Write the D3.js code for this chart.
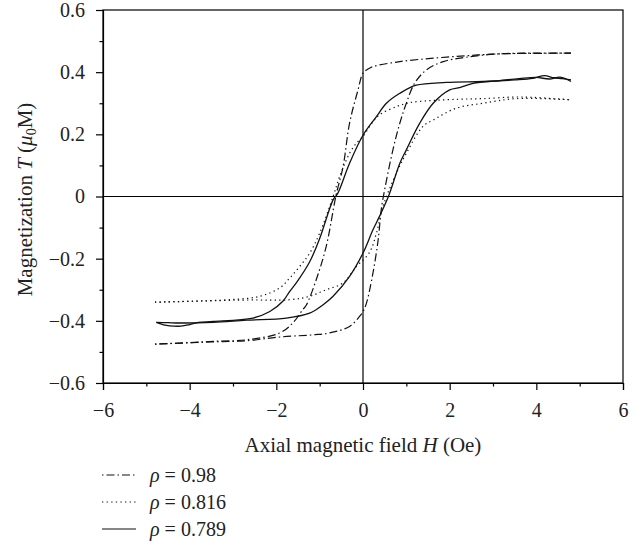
<!DOCTYPE html>
<html>
<head>
<meta charset="utf-8">
<script src="https://cdn.jsdelivr.net/npm/d3@7"></script>
<style>
  body { margin: 0; background: #fff; }
  svg { font-family: "Liberation Serif", "DejaVu Serif", serif; }
  .axis path, .axis line { stroke: #000; stroke-width: 1.2; }
</style>
</head>
<body>
<svg id="chart" width="644" height="548"></svg>
<script>
//
// Hysteresis loops, magnetization vs axial field
//

// tick labels
const xTicks = [-6, -4, -2, 0, 2, 4, 6];
const xMinorTicks = [-5, -3, -1, 1, 3, 5];
const yTicks = [-0.6, -0.4, -0.2, 0, 0.2, 0.4, 0.6];
const yMinorTicks = [-0.5, -0.3, -0.1, 0.1, 0.3, 0.5];

// legend entries
const seriesNames = ["0.98", "0.816", "0.789"];

// rho = 0.98, [H, M] — upper (descending field) and lower (ascending field) branches
const rho098Upper = [
  [-4.8, -0.475], [-4.0, -0.47], [-3.46, -0.466], [-2.69, -0.461],
  [-1.92, -0.439], [-1.62, -0.407], [-1.39, -0.364], [-1.31, -0.35],
  [-1.08, -0.268], [-0.85, -0.161], [-0.62, 0.005], [-0.46, 0.096],
  [-0.31, 0.236], [-0.115, 0.343], [0, 0.397], [0.115, 0.41],
  [0.23, 0.418], [0.85, 0.434], [1.62, 0.445], [2.4, 0.453],
  [3.15, 0.459], [4.8, 0.461]
];
const rho098Lower = [
  [-4.8, -0.475], [-3.5, -0.468], [-2.69, -0.464], [-1.92, -0.452],
  [-1.15, -0.445], [-0.77, -0.439], [-0.31, -0.418], [-0.08, -0.386],
  [0, -0.37], [0.08, -0.343], [0.23, -0.246], [0.35, -0.139],
  [0.42, -0.043], [0.47, 0.0], [0.69, 0.15], [0.85, 0.236],
  [1.0, 0.3], [1.19, 0.364], [1.46, 0.407], [1.85, 0.434],
  [2.38, 0.448], [3.15, 0.459], [4.8, 0.461]
];

// rho = 0.816
const rho0816Upper = [
  [-4.8, -0.34], [-3.08, -0.332], [-2.38, -0.321], [-1.92, -0.294],
  [-1.69, -0.262], [-1.46, -0.225], [-1.23, -0.182], [-1.0, -0.118],
  [-0.69, 0.0], [-0.54, 0.064], [-0.31, 0.139], [-0.15, 0.172],
  [0, 0.193], [0.2, 0.235], [0.385, 0.263], [0.77, 0.289],
  [1.08, 0.302], [1.62, 0.309], [2.23, 0.313], [2.77, 0.315],
  [3.5, 0.32], [3.92, 0.319], [4.8, 0.311]
];
const rho0816Lower = [
  [-4.8, -0.34], [-2.69, -0.333], [-1.69, -0.332], [-1.23, -0.321],
  [-0.85, -0.3], [-0.46, -0.278], [-0.15, -0.225], [0.15, -0.18],
  [0.31, -0.118], [0.46, -0.032], [0.77, 0.075], [1.0, 0.139],
  [1.38, 0.225], [1.62, 0.246], [2.15, 0.284], [2.77, 0.3],
  [3.54, 0.315], [4.8, 0.311]
];

// rho = 0.789
const rho0789Upper = [
  [-4.77, -0.405], [-4.6, -0.413], [-4.46, -0.416], [-4.2, -0.417],
  [-4.0, -0.412], [-3.8, -0.405], [-3.46, -0.402], [-2.54, -0.391],
  [-2.15, -0.37], [-1.85, -0.337], [-1.69, -0.305], [-1.54, -0.278],
  [-1.23, -0.21], [-1.0, -0.135], [-0.69, -0.011], [-0.58, 0.011],
  [-0.31, 0.107], [0, 0.197], [0.31, 0.257], [0.54, 0.3],
  [0.85, 0.332], [1.23, 0.358], [1.92, 0.367], [2.77, 0.37],
  [3.5, 0.375], [3.92, 0.38], [4.19, 0.389], [4.4, 0.382],
  [4.6, 0.379], [4.8, 0.375]
];
const rho0789Lower = [
  [-4.77, -0.405], [-4.5, -0.406], [-4.23, -0.407], [-3.46, -0.405],
  [-2.69, -0.398], [-1.77, -0.391], [-1.23, -0.375], [-0.92, -0.348],
  [-0.69, -0.321], [-0.31, -0.257], [0, -0.182], [0.23, -0.107],
  [0.38, -0.064], [0.6, 0.005], [0.85, 0.107], [1.0, 0.15],
  [1.31, 0.236], [1.62, 0.3], [2.0, 0.343], [2.23, 0.35],
  [2.54, 0.364], [3.15, 0.373], [3.6, 0.379], [4.0, 0.383],
  [4.3, 0.378], [4.55, 0.384], [4.8, 0.37]
];

const FONT = '"Liberation Serif", "DejaVu Serif", serif';
const MARGIN = { top: 10, right: 21, bottom: 165, left: 103 };
const WIDTH = 644 - MARGIN.left - MARGIN.right;
const HEIGHT = 548 - MARGIN.top - MARGIN.bottom;

const series = [
  { name: seriesNames[0], upper: rho098Upper, lower: rho098Lower, dash: "1.5,3,8,3" },
  { name: seriesNames[1], upper: rho0816Upper, lower: rho0816Lower, dash: "1.3,3.3" },
  { name: seriesNames[2], upper: rho0789Upper, lower: rho0789Lower, dash: null }
];

const svg = d3.select("#chart");
const g = svg
  .append("g")
  .attr("transform", `translate(${MARGIN.left},${MARGIN.top})`);

const xScale = d3.scaleLinear().domain([-6, 6]).range([0, WIDTH]);
const yScale = d3.scaleLinear().domain([-0.6, 0.6]).range([HEIGHT, 0]);

const fmt = v => (v === 0 ? "0" : d3.format(".1f")(v).replace("-", "\u2212"));
const fmtX = v => String(v).replace("-", "\u2212");

function styleAxis(sel) {
  sel
    .attr("font-family", FONT)
    .attr("font-size", 20)
    .selectAll("text")
    .style("font-family", FONT)
    .style("font-size", "20px")
    .attr("fill", "#222");
}

function drawAxes() {
  // frame
  g.append("rect")
    .attr("width", WIDTH)
    .attr("height", HEIGHT)
    .attr("fill", "none")
    .attr("stroke", "#000")
    .attr("stroke-width", 1.2);

  // zero lines
  g.append("line")
    .attr("x1", 0).attr("x2", WIDTH)
    .attr("y1", yScale(0)).attr("y2", yScale(0))
    .attr("stroke", "#000").attr("stroke-width", 1.2);
  g.append("line")
    .attr("x1", xScale(0)).attr("x2", xScale(0))
    .attr("y1", 0).attr("y2", HEIGHT)
    .attr("stroke", "#000").attr("stroke-width", 1.2);

  g.append("g")
    .attr("class", "axis")
    .attr("transform", `translate(0,${HEIGHT})`)
    .call(d3.axisBottom(xScale).tickValues(xTicks).tickSize(7).tickPadding(13).tickFormat(fmtX))
    .call(styleAxis);
  g.append("g")
    .attr("class", "axis")
    .attr("transform", `translate(0,${HEIGHT})`)
    .call(d3.axisBottom(xScale).tickValues(xMinorTicks).tickSize(3.5).tickFormat(""))
    .select(".domain").remove();

  g.append("g")
    .attr("class", "axis")
    .call(d3.axisLeft(yScale).tickValues(yTicks).tickSize(7).tickPadding(11).tickFormat(fmt))
    .call(styleAxis);
  g.append("g")
    .attr("class", "axis")
    .call(d3.axisLeft(yScale).tickValues(yMinorTicks).tickSize(3.5).tickFormat(""))
    .select(".domain").remove();

  // axis titles
  const xLabel = svg
    .append("text")
    .attr("x", MARGIN.left + xScale(0))
    .attr("y", 452)
    .attr("text-anchor", "middle")
    .attr("font-size", 21)
    .attr("fill", "#222");
  xLabel.append("tspan").text("Axial magnetic field ");
  xLabel.append("tspan").attr("font-style", "italic").text("H");
  xLabel.append("tspan").text(" (Oe)");

  const yLabel = svg
    .append("text")
    .attr("transform", `translate(32,${MARGIN.top + yScale(0) + 3}) rotate(-90)`)
    .attr("text-anchor", "middle")
    .attr("font-size", 21)
    .attr("fill", "#222");
  yLabel.append("tspan").text("Magnetization ");
  yLabel.append("tspan").attr("font-style", "italic").text("T");
  yLabel.append("tspan").text(" (");
  yLabel.append("tspan").attr("font-style", "italic").text("\u03bc");
  yLabel.append("tspan").attr("font-size", 14).attr("dy", 4).text("0");
  yLabel.append("tspan").attr("dy", -4).text("M)");
}

function drawCurves() {
  const line = d3
    .line()
    .x(d => xScale(d[0]))
    .y(d => yScale(d[1]))
    .curve(d3.curveCatmullRom.alpha(0.5));

  series.forEach(s => {
    [s.upper, s.lower].forEach(branch => {
      g.append("path")
        .datum(branch)
        .attr("d", line)
        .attr("fill", "none")
        .attr("stroke", "#111")
        .attr("stroke-width", s.dash ? 1.2 : 1.3)
        .attr("stroke-dasharray", s.dash);
    });
  });
}

function drawLegend() {
  const legend = svg.append("g").attr("transform", "translate(102,475)");
  series.forEach((s, i) => {
    const row = legend.append("g").attr("transform", `translate(0,${i * 27})`);
    row.append("line")
      .attr("x1", 0).attr("x2", 34)
      .attr("stroke", "#111")
      .attr("stroke-width", 1.2)
      .attr("stroke-dasharray", s.dash);
    const t = row.append("text")
      .attr("x", 48)
      .attr("y", 7)
      .attr("font-size", 20)
      .attr("fill", "#222");
    t.append("tspan").attr("font-style", "italic").text("\u03c1");
    t.append("tspan").text(" = " + s.name);
  });
}

drawAxes();
drawCurves();
drawLegend();
</script>
</body>
</html>
